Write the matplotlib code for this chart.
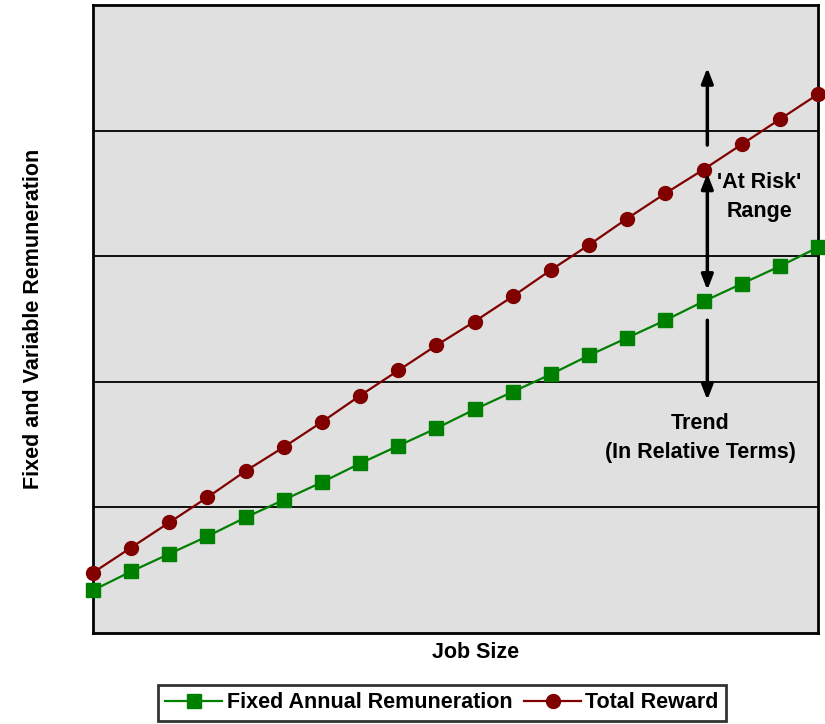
import matplotlib.pyplot as plt

plt.rcParams['font.family'] = ['Liberation Sans', 'DejaVu Sans']
plt.rcParams['font.weight'] = 'bold'

job_size = list(range(1, 21))
fixed_annual = [0.34, 0.49, 0.63, 0.77, 0.92, 1.06, 1.20, 1.35, 1.49, 1.63,
                1.78, 1.92, 2.06, 2.21, 2.35, 2.49, 2.64, 2.78, 2.92, 3.07]
total_reward = [0.48, 0.68, 0.88, 1.08, 1.29, 1.48, 1.68, 1.89, 2.09, 2.29,
                2.48, 2.68, 2.89, 3.09, 3.30, 3.50, 3.69, 3.89, 4.09, 4.29]

fig = plt.figure(figsize=(8.25, 7.24), dpi=100)
ax = fig.add_axes([0.1127, 0.1257, 0.8788, 0.8674])
ax.set_facecolor('#e0e0e0')

ax.plot(job_size, fixed_annual, color='#008000', lw=1.6, marker='s',
        markersize=10.5, label='Fixed Annual Remuneration', clip_on=False, zorder=3)
ax.plot(job_size, total_reward, color='#800000', lw=1.6, marker='o',
        markersize=10, label='Total Reward', clip_on=False, zorder=3)

ax.set_xlim(1, 20)
ax.set_ylim(0, 5)
ax.set_xticks([])
ax.set_yticks([1, 2, 3, 4])
ax.tick_params(left=False, labelleft=False)
ax.grid(axis='y', color='black', lw=1.3)
ax.set_axisbelow(True)
for s in ax.spines.values():
    s.set_linewidth(2)
    s.set_color('black')

ax.set_xlabel('Job Size', fontsize=15.5, fontweight='bold')
ax.xaxis.set_label_coords(0.528, -0.014)
ax.set_ylabel('Fixed and Variable Remuneration', fontsize=15.5, fontweight='bold', labelpad=35)

# arrows showing the at-risk range and trend
ax_x = 17.1
akw = dict(arrowstyle='-|>,head_width=0.35,head_length=0.9', color='black', lw=2.5,
           shrinkA=0, shrinkB=0)
ax.annotate('', xy=(ax_x, 4.50), xytext=(ax_x, 3.885), arrowprops=akw)
ax.annotate('', xy=(ax_x, 3.66), xytext=(ax_x, 2.73),
            arrowprops=dict(akw, arrowstyle='<|-|>,head_width=0.35,head_length=0.9'))
ax.annotate('', xy=(ax_x, 1.855), xytext=(ax_x, 2.49), arrowprops=akw)

ax.text(18.47, 3.47, "'At Risk'\nRange", ha='center', va='center',
        fontsize=15.5, fontweight='bold', linespacing=1.5)
ax.text(16.92, 1.55, "Trend\n(In Relative Terms)", ha='center', va='center',
        fontsize=15.5, fontweight='bold', linespacing=1.5)

leg = fig.legend(loc='upper center', bbox_to_anchor=(0.5358, 0.054), ncol=2,
                 fontsize=15.5, frameon=True, fancybox=False, edgecolor='black',
                 handlelength=2.65, columnspacing=0.55, handletextpad=0.2,
                 borderpad=0.35, borderaxespad=0)
leg.get_frame().set_linewidth(2)

fig.savefig('out.png', dpi=100)
